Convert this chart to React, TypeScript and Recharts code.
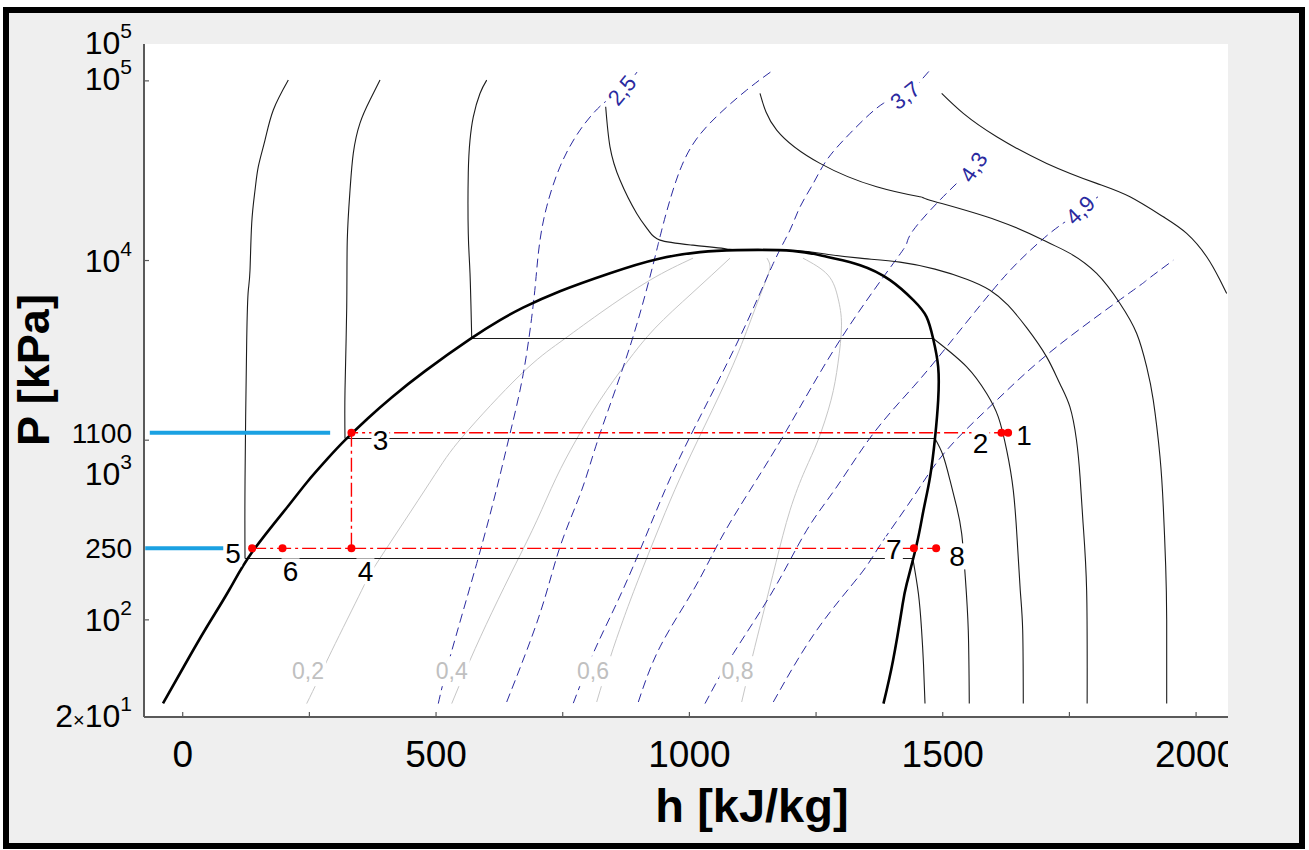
import React from "react";
import { ComposedChart, Line, Scatter, XAxis, YAxis, CartesianGrid } from "recharts";

type Pt = [number, number];

const CHART_W = 1309;
const CHART_H = 850;
const MARGIN = { top: 44, right: 81, bottom: 0, left: 0 };
const PLOT_RIGHT = CHART_W - MARGIN.right;
const FONT = "'Liberation Sans', Arial, sans-serif";

// h [kJ/kg] and P [kPa] ranges of the plot box
const hRange: Pt = [-76.4, 2063];
const pRange: Pt = [28.8, 160400];

const xTicks = [0, 250, 500, 750, 1000, 1250, 1500, 1750, 2000];
const xTickLabels = ["0", "", "500", "", "1000", "", "1500", "", "2000"];

const yTicks = [28.8, 100, 250, 1000, 1100, 10000, 100000, 160400];
const yTickLabels = ["2×10^1", "10^2", "250", "10^3", "1100", "10^4", "10^5", "10^5"];
const yTickMarks = [100, 1000, 10000, 100000];
const yLabelShift = [-2, 0, 0, 33, 0, 0, -2, -2];

// saturation dome
const satDome: Pt[] = [
  [-38.9, 34.3], [2.6, 55.2], [46, 89.8], [91.4, 146.2], [136.8, 237.9], [207.8, 429],
  [245.3, 583.7], [286.8, 793.9], [320.3, 1000], [365.7, 1326], [413, 1736], [478.2, 2423],
  [567, 3651], [626.3, 4656], [671.6, 5467], [744.6, 6753], [843.3, 8507], [936, 10180],
  [1021, 11140], [1094, 11430], [1204, 11320], [1271, 10490], [1337, 9420], [1396, 7780],
  [1442, 6020], [1468, 4860], [1481, 3681], [1491, 2560], [1491, 1670], [1485, 1043],
  [1475, 625], [1462, 407], [1449, 266], [1429, 159], [1420, 118], [1402, 59.6], [1383, 34.2],
];

// isotherms: liquid branch, then vapour branch (joined by the flat part)
const isoALiquid: Pt[] = [
  [208.4, 101000], [178.8, 68800], [162.4, 46800], [149.2, 33300], [142.7, 24600],
  [136.2, 16150], [132.8, 8840], [129.5, 6840], [126.3, 3600], [123, 600], [123, 219.4],
];
const isoAVapour: Pt[] = [[1441, 219.4], [1452, 140], [1458, 90], [1462, 57], [1465, 34.2]];

const isoBLiquid: Pt[] = [
  [389.4, 101000], [369.6, 78200], [349.9, 58200], [336.7, 39600], [330.2, 24600],
  [324.8, 13000], [323.7, 5520], [320.3, 1900], [320.3, 1022],
];
const isoBVapour: Pt[] = [
  [1484.6, 1022], [1500.5, 825], [1514.3, 599], [1527.5, 425], [1537.4, 302],
  [1544.5, 173], [1550.4, 87.5], [1552.4, 34.2],
];

const isoCLiquid: Pt[] = [
  [600, 101000], [586.7, 85100], [573.5, 63100], [567, 46800], [563.6, 30700],
  [563.6, 14200], [567, 8510], [570.4, 3681],
];
const isoCVapour: Pt[] = [
  [1481.3, 3681], [1547.3, 2560], [1586.7, 1819], [1609.6, 1348], [1626.2, 880],
  [1639.2, 527], [1647, 277], [1653, 146], [1657.8, 87.5], [1659, 34.2],
];

const isoD: Pt[] = [
  [834.8, 71760], [843.3, 42960], [863, 28050], [896, 18280], [918.9, 14760], [942, 12990],
  [1007, 12180], [1074, 11600], [1100, 11500], [1204, 11350], [1271, 10850], [1336.7, 10310],
  [1415.6, 9797], [1484.6, 8956], [1547.3, 7877], [1593.3, 6840], [1628.8, 5644],
  [1666.3, 4204], [1705, 2910], [1731, 2069], [1751, 1532], [1764, 1000], [1771, 625],
  [1777, 344], [1784, 146], [1785, 34.2],
];

const isoE: Pt[] = [
  [1139.3, 85100], [1172.3, 53200], [1257.8, 34730], [1369.6, 25720], [1455.1, 22630],
  [1474.8, 21680], [1606.5, 16780], [1705.2, 12710], [1751.2, 10960], [1803.8, 8475],
  [1849.8, 5768], [1882.8, 3927], [1902.5, 2560], [1915.5, 1670], [1928.8, 807],
  [1935.3, 425], [1940, 200], [1942, 100], [1942, 34.2],
];

const isoF: Pt[] = [
  [1497.9, 85100], [1540.6, 65900], [1606.5, 48840], [1705.2, 34730], [1803.8, 26880],
  [1869.5, 22630], [1935.3, 17510], [1981.4, 14150], [2020.9, 10490], [2047.2, 7780],
  [2060.4, 6558],
];

// isentropes s [kJ/kg-K]
const s25: Pt[] = [
  [504.4, 34.2], [527.5, 62], [580.2, 205.8], [619.7, 538], [646, 1089], [672.2, 2351],
  [691.3, 5520], [698.6, 8843], [705.2, 12990], [718.3, 19900], [744.6, 33260],
  [784.1, 53200], [830.1, 74940], [866.4, 88900], [896.6, 111900],
];
const s31: Pt[] = [
  [639.4, 34.9], [705.2, 108.8], [744.6, 254.7], [787.4, 526.8], [823.6, 1089],
  [888.7, 3760], [935.5, 11430], [942, 13550], [981.4, 31850], [1040.7, 58200],
  [1113.1, 88900], [1165.6, 114800],
];
const s37: Pt[] = [
  [770.9, 34.4], [810.3, 65.2], [856.5, 123.7], [902.5, 244.1], [951.8, 526.8],
  [1007.7, 1137], [1099.9, 3760], [1165.6, 9640], [1198.5, 14760], [1218.4, 19900],
  [1244.5, 26880], [1271, 36230], [1317, 51020], [1382.7, 74940], [1425.5, 83400],
  [1474.8, 114800],
];
const s43: Pt[] = [
  [899.2, 34.9], [942, 70.7], [1007.7, 146.2], [1060.4, 277.4], [1119.6, 526.8],
  [1192, 1137], [1297.2, 3605], [1402.4, 9640], [1428.9, 12450], [1441.9, 14760],
  [1488, 20790], [1527.5, 26880], [1560.3, 33260],
];
const s49: Pt[] = [
  [1030.8, 34.2], [1086.6, 64.9], [1165.6, 146.2], [1231.5, 315.4], [1290.7, 549.6],
  [1363, 1089], [1441.9, 1982], [1507.8, 3307], [1593.3, 6558], [1652.4, 10040],
  [1711.6, 14210], [1751, 17150], [1771, 19120], [1806.4, 22630],
];
const s55: Pt[] = [
  [1165.6, 34.9], [1251.2, 87.5], [1336.7, 178], [1376.2, 260], [1441.9, 483],
  [1507.8, 880], [1606.5, 1670], [1724.9, 3307], [1876.1, 6840], [1902.5, 7780],
  [1955, 10040],
];

// vapour quality lines
const q02: Pt[] = [
  [244.7, 34.2], [266.9, 46.1], [294.6, 67.7], [353.3, 146.2], [389.4, 220.3], [488, 583.7],
  [553.2, 1053], [665.5, 2300], [744.6, 3513], [823.6, 5094], [922.3, 7780], [1007.1, 10310],
];
const q04: Pt[] = [
  [530.9, 34.2], [567, 59.6], [610.4, 110.2], [657.8, 206.6], [699.2, 358.5], [736.7, 614.4],
  [776.2, 1000], [823.6, 1670], [876.9, 2719], [932.2, 4204], [1005.2, 6583], [1080.2, 10310],
];
const q06: Pt[] = [
  [817, 34.9], [843.3, 61.1], [869, 99.5], [898.6, 166.2], [942, 336.3], [981.4, 614.4],
  [1030.8, 1212], [1086, 2616], [1125.6, 5030], [1151.3, 7780], [1159.1, 9307],
  [1153.2, 10310],
];
const q08: Pt[] = [
  [1103.2, 34.9], [1123.6, 61.1], [1145.3, 107.5], [1171, 209.3], [1198.6, 407.5],
  [1228.2, 680.7], [1253.9, 1000], [1279.5, 1670], [1293.3, 2684], [1300.2, 4369],
  [1293.3, 6175], [1273.6, 8292], [1224.2, 10310],
];

// refrigeration cycle
const pointNames = ["1", "2", "3", "4", "5", "6", "7", "8"];
const pointH = [1629, 1616, 333, 333, 137, 197, 1443, 1487];
const pointP = [1100, 1100, 1100, 250, 250, 250, 250, 250];
const condenserLine: Pt[] = [[1629, 1100], [333, 1100]];
const valveLine: Pt[] = [[333, 1100], [333, 250]];
const evaporatorLine: Pt[] = [[137, 250], [1487, 250]];
const highPMarker: Pt[] = [[-65, 1100], [291, 1100]];
const lowPMarker: Pt[] = [[-74, 250], [80, 250]];

const qualityNames = ["0,2", "0,4", "0,6", "0,8"];
const qualityLabelH = [247.3, 530.9, 809.8, 1094.9];
const qualityLabelP = [51.8, 51.8, 51.8, 51.8];

const entropyNames = ["2,5", "3,7", "4,3", "4,9"];
const entropyLabelH = [866.4, 1425.5, 1560.3, 1771];
const entropyLabelP = [88900, 83400, 33260, 19120];

// label placement (styles, pixels)
const pointLabelShift: Record<string, Pt> = {
  "1": [16, 2], "2": [-21, 10], "3": [29, 7], "4": [14, 23],
  "5": [-19, 5], "6": [8, 23], "7": [-20, 1], "8": [21, 8],
};
const entropyAngle: Record<string, number> = { "2,5": -50, "3,7": -38, "4,3": -56, "4,9": -44 };

const toData = (pts: Pt[]) => pts.map(([h, P]) => ({ h, P }));

const cyclePoints = pointNames.map((name, i) => ({ name, h: pointH[i], P: pointP[i] }));
const qualityLabels = qualityNames.map((name, i) => ({ name, h: qualityLabelH[i], P: qualityLabelP[i] }));
const entropyLabels = entropyNames.map((name, i) => ({ name, h: entropyLabelH[i], P: entropyLabelP[i] }));

const liquidIsotherms = [isoALiquid, isoBLiquid, isoCLiquid];
const vapourIsotherms = [isoAVapour, isoBVapour, isoCVapour];
const otherIsotherms = [isoD, isoE, isoF];
const isentropes = [s25, s31, s37, s43, s49, s55];
const qualityLines = [q02, q04, q06, q08];

const ISO_COLOR = "#1c1c1c";
const S_COLOR = "#2a2aa0";
const Q_COLOR = "#c6c6c6";
const AXIS_COLOR = "#5a5a5a";

function XTickBottom(props: any) {
  const { x, y, payload } = props;
  const label = xTickLabels[xTicks.indexOf(payload.value)];
  const clipId = `xclip-${payload.value}`;
  return (
    <g>
      <line x1={x} x2={x} y1={y} y2={y - 5} stroke={AXIS_COLOR} strokeWidth={1.2} />
      {label && (
        <>
          <defs>
            <clipPath id={clipId}>
              <rect x={0} y={0} width={PLOT_RIGHT} height={CHART_H} />
            </clipPath>
          </defs>
          <text x={x} y={y + 50} textAnchor="middle" fontFamily={FONT} fontSize={37} fill="#000" clipPath={`url(#${clipId})`}>
            {label}
          </text>
        </>
      )}
    </g>
  );
}

function XTickTop(props: any) {
  const { x, y } = props;
  return <line x1={x} x2={x} y1={y} y2={y + 5} stroke={AXIS_COLOR} strokeWidth={1.2} />;
}

function YTick(props: any) {
  const { x, y, payload } = props;
  const i = yTicks.indexOf(payload.value);
  if (i < 0) return null;
  const [base, sup] = yTickLabels[i].split("^");
  const size = sup ? 32 : 28;
  const cy = y + yLabelShift[i];
  return (
    <g>
      {yTickMarks.includes(payload.value) && (
        <line x1={x} x2={x + 5} y1={y} y2={y} stroke={AXIS_COLOR} strokeWidth={1.2} />
      )}
      <text x={x - 12} y={cy + size * 0.36} textAnchor="end" fontFamily={FONT} fontSize={size} fill="#000">
        {base.includes("×") ? (
          <>
            <tspan>2</tspan>
            <tspan fontSize={20}>×</tspan>
            <tspan>10</tspan>
          </>
        ) : (
          <tspan>{base}</tspan>
        )}
        {sup && (
          <tspan dy={-size * 0.5} fontSize={21}>
            {sup}
          </tspan>
        )}
      </text>
    </g>
  );
}

function XTitle(props: any) {
  const { viewBox } = props;
  return (
    <text x={viewBox.x + viewBox.width / 2 + 66} y={viewBox.y + 105} textAnchor="middle" fontFamily={FONT} fontWeight="bold" fontSize={47} fill="#000">
      h [kJ/kg]
    </text>
  );
}

function TopTitle(props: any) {
  const { viewBox } = props;
  return (
    <text x={viewBox.x + viewBox.width / 2 + 63} y={viewBox.y - 11} textAnchor="middle" fontFamily={FONT} fontWeight="bold" fontSize={27} fill="#000">
      Ammonia
    </text>
  );
}

function YTitle(props: any) {
  const { viewBox } = props;
  const cy = viewBox.y + 326;
  return (
    <text transform={`translate(49, ${cy}) rotate(-90)`} textAnchor="middle" fontFamily={FONT} fontWeight="bold" fontSize={45} fill="#000">
      P [kPa]
    </text>
  );
}

function RedDot(props: any) {
  const { cx, cy } = props;
  return <circle cx={cx} cy={cy} r={4} fill="#ff0000" />;
}

function PointLabel(props: any) {
  const { cx, cy, payload } = props;
  const [dx, dy] = pointLabelShift[payload.name];
  const x = cx + dx;
  const y = cy + dy;
  return (
    <g>
      <rect x={x - 9} y={y - 13} width={18} height={26} fill="#fff" />
      <text x={x} y={y + 10} textAnchor="middle" fontFamily={FONT} fontSize={28} fill="#000">
        {payload.name}
      </text>
    </g>
  );
}

function QualityLabel(props: any) {
  const { cx, cy, payload } = props;
  return (
    <g>
      <rect x={cx - 18} y={cy - 15} width={36} height={30} fill="#fff" />
      <text x={cx} y={cy + 8} textAnchor="middle" fontFamily={FONT} fontSize={23} fill="#c0c0c0">
        {payload.name}
      </text>
    </g>
  );
}

function EntropyLabel(props: any) {
  const { cx, cy, payload } = props;
  return (
    <g transform={`translate(${cx}, ${cy}) rotate(${entropyAngle[payload.name]})`}>
      <rect x={-19} y={-12} width={38} height={24} fill="#fff" />
      <text x={0} y={8} textAnchor="middle" fontFamily={FONT} fontSize={22} fill={S_COLOR}>
        {payload.name}
      </text>
    </g>
  );
}

export default function App() {
  return (
    <div style={{ position: "absolute", left: 0, top: 0, width: CHART_W, height: CHART_H, background: "#fff" }}>
      <div
        style={{
          position: "absolute",
          left: 3,
          top: 7,
          width: 1302,
          height: 842,
          boxSizing: "border-box",
          border: "6px solid #000",
          background: "#efefef",
        }}
      />
      <div style={{ position: "absolute", left: 0, top: 0 }}>
        <ComposedChart width={CHART_W} height={CHART_H} margin={MARGIN}>
          <CartesianGrid fill="#ffffff" stroke="none" horizontal={false} vertical={false} />
          <XAxis
            type="number"
            dataKey="h"
            domain={hRange}
            allowDataOverflow
            ticks={xTicks}
            interval={0}
            height={133}
            tickSize={0}
            tickMargin={0}
            tick={<XTickBottom />}
            axisLine={{ stroke: AXIS_COLOR, strokeWidth: 2 }}
            label={<XTitle />}
          />
          <XAxis
            xAxisId="top"
            orientation="top"
            type="number"
            dataKey="h"
            domain={hRange}
            allowDataOverflow
            ticks={xTicks}
            interval={0}
            height={0}
            tickSize={0}
            tickMargin={0}
            tick={<XTickTop />}
            axisLine={{ stroke: AXIS_COLOR, strokeWidth: 2 }}
            label={<TopTitle />}
          />
          <YAxis
            type="number"
            dataKey="P"
            scale="log"
            domain={pRange}
            allowDataOverflow
            ticks={yTicks}
            interval={0}
            width={144}
            tickSize={0}
            tickMargin={0}
            tick={<YTick />}
            axisLine={{ stroke: AXIS_COLOR, strokeWidth: 2 }}
            label={<YTitle />}
          />

          {qualityLines.map((pts, i) => (
            <Line key={`q${i}`} data={toData(pts)} dataKey="P" type="natural" stroke={Q_COLOR} strokeWidth={1} dot={false} activeDot={false} isAnimationActive={false} />
          ))}
          {isentropes.map((pts, i) => (
            <Line key={`s${i}`} data={toData(pts)} dataKey="P" type="natural" stroke={S_COLOR} strokeWidth={1} strokeDasharray="9 5" dot={false} activeDot={false} isAnimationActive={false} />
          ))}
          {liquidIsotherms.map((pts, i) => (
            <Line key={`tl${i}`} data={toData(pts)} dataKey="P" type="natural" stroke={ISO_COLOR} strokeWidth={1.1} dot={false} activeDot={false} isAnimationActive={false} />
          ))}
          {liquidIsotherms.map((pts, i) => (
            <Line key={`tf${i}`} data={toData([pts[pts.length - 1], vapourIsotherms[i][0]])} dataKey="P" type="linear" stroke={ISO_COLOR} strokeWidth={1.1} dot={false} activeDot={false} isAnimationActive={false} />
          ))}
          {vapourIsotherms.map((pts, i) => (
            <Line key={`tv${i}`} data={toData(pts)} dataKey="P" type="natural" stroke={ISO_COLOR} strokeWidth={1.1} dot={false} activeDot={false} isAnimationActive={false} />
          ))}
          {otherIsotherms.map((pts, i) => (
            <Line key={`to${i}`} data={toData(pts)} dataKey="P" type="natural" stroke={ISO_COLOR} strokeWidth={1.1} dot={false} activeDot={false} isAnimationActive={false} />
          ))}
          <Line data={toData(satDome)} dataKey="P" type="natural" stroke="#000" strokeWidth={2.6} dot={false} activeDot={false} isAnimationActive={false} />

          <Line data={toData(highPMarker)} dataKey="P" type="linear" stroke="#1ba1e2" strokeWidth={4} dot={false} activeDot={false} isAnimationActive={false} />
          <Line data={toData(lowPMarker)} dataKey="P" type="linear" stroke="#1ba1e2" strokeWidth={4} dot={false} activeDot={false} isAnimationActive={false} />

          {[condenserLine, valveLine, evaporatorLine].map((pts, i) => (
            <Line key={`c${i}`} data={toData(pts)} dataKey="P" type="linear" stroke="#ff0000" strokeWidth={1.4} strokeDasharray="14 4 3 4" dot={false} activeDot={false} isAnimationActive={false} />
          ))}
          <Scatter data={cyclePoints} shape={<RedDot />} isAnimationActive={false} />
          <Scatter data={qualityLabels} shape={<QualityLabel />} isAnimationActive={false} />
          <Scatter data={entropyLabels} shape={<EntropyLabel />} isAnimationActive={false} />
          <Scatter data={cyclePoints} shape={<PointLabel />} isAnimationActive={false} />
        </ComposedChart>
      </div>
    </div>
  );
}
